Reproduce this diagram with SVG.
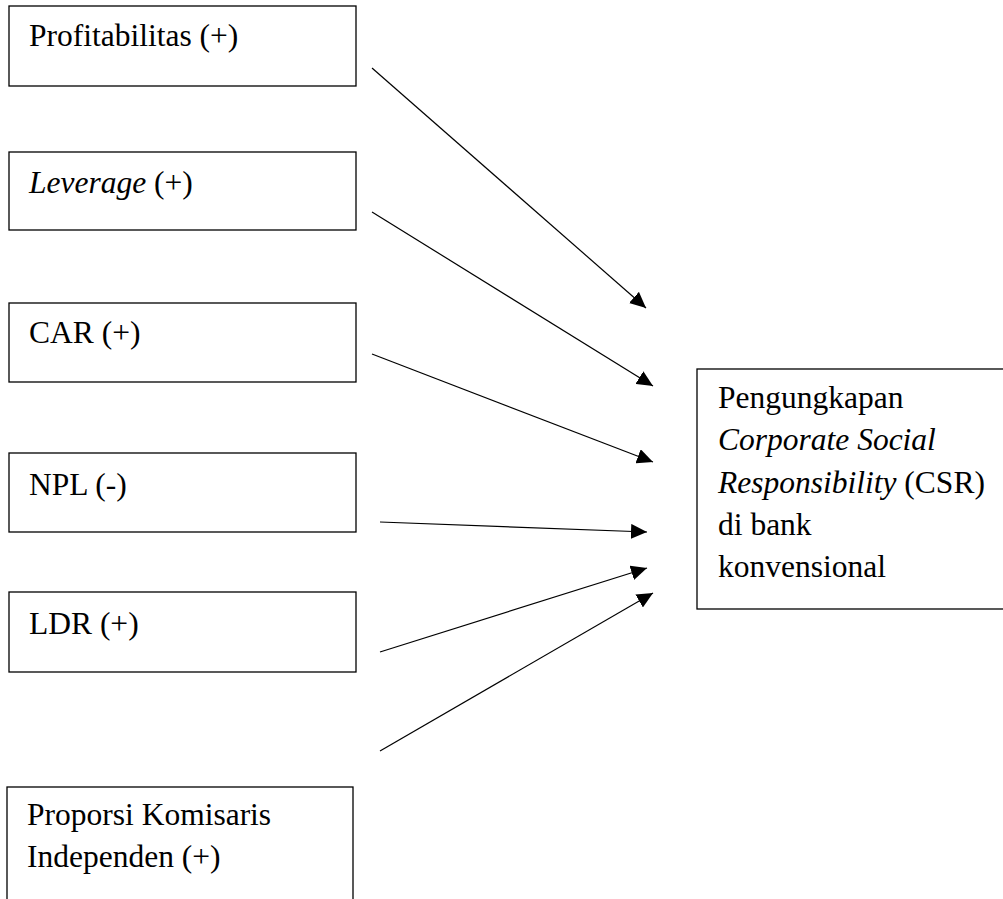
<svg xmlns="http://www.w3.org/2000/svg" width="1003" height="899" viewBox="0 0 1003 899">
<style>
.box{fill:#fff;stroke:#000;stroke-width:1.3}
.t{font-family:"Liberation Serif","Times New Roman",serif;font-size:31.5px;fill:#000}
.i{font-style:italic}
.c{stroke:#000;stroke-width:1.2;fill:none}
</style>
<defs>
<marker id="ah" markerUnits="userSpaceOnUse" markerWidth="17" markerHeight="15" refX="16" refY="7.5" orient="auto">
<path d="M0,0 L16,7.5 L0,15 Z" fill="#000"/>
</marker>
</defs>
<rect width="1003" height="899" fill="#fff"/>
<g id="n1"><rect class="box" x="9" y="6" width="347" height="80"/>
<text class="t" x="29" y="46">Profitabilitas (+)</text></g>
<g id="n2"><rect class="box" x="9" y="152" width="347" height="78"/>
<text class="t" x="29" y="193"><tspan class="i">Leverage</tspan> (+)</text></g>
<g id="n3"><rect class="box" x="9" y="303" width="347" height="79"/>
<text class="t" x="29" y="343">CAR (+)</text></g>
<g id="n4"><rect class="box" x="9" y="453" width="347" height="79"/>
<text class="t" x="29" y="495">NPL (-)</text></g>
<g id="n5"><rect class="box" x="9" y="592" width="347" height="80"/>
<text class="t" x="29" y="634">LDR (+)</text></g>
<g id="n6"><rect class="box" x="7" y="787" width="346" height="130"/>
<text class="t" x="27" y="825">Proporsi Komisaris</text>
<text class="t" x="27" y="867">Independen (+)</text></g>
<g id="n7"><rect class="box" x="697" y="369" width="320" height="240"/>
<text class="t" x="718" y="408">Pengungkapan</text>
<text class="t i" x="718" y="450">Corporate Social</text>
<text class="t" x="718" y="493"><tspan class="i">Responsibility</tspan> (CSR)</text>
<text class="t" x="718" y="535">di bank</text>
<text class="t" x="718" y="577">konvensional</text></g>
<g id="connectors">
<line class="c" x1="372" y1="68" x2="646" y2="308" marker-end="url(#ah)"/>
<line class="c" x1="372" y1="212" x2="653" y2="386" marker-end="url(#ah)"/>
<line class="c" x1="372" y1="354" x2="653" y2="462" marker-end="url(#ah)"/>
<line class="c" x1="380" y1="522" x2="647" y2="532" marker-end="url(#ah)"/>
<line class="c" x1="380" y1="652" x2="647" y2="568" marker-end="url(#ah)"/>
<line class="c" x1="380" y1="751" x2="653" y2="593" marker-end="url(#ah)"/>
</g>
</svg>
